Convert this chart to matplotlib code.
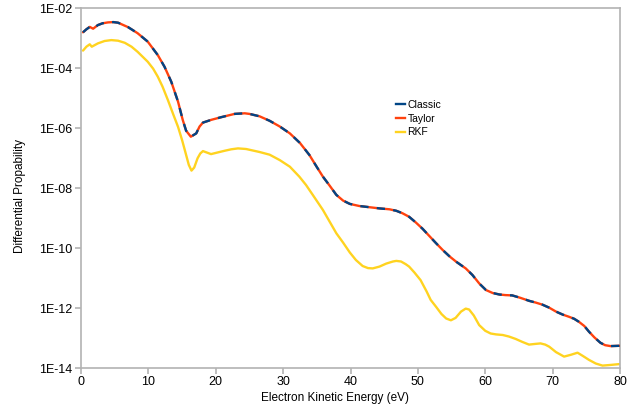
import numpy as np
import matplotlib
matplotlib.use("Agg")
import matplotlib.pyplot as plt
from matplotlib.ticker import FixedLocator, NullLocator

plt.rcParams['font.family'] = ['Liberation Sans', 'DejaVu Sans']

# Classic / Taylor (identical curves): energy (eV) and log10 of probability
classic_e = [0.3, 0.8, 1.3, 1.8, 2.5, 3.2, 4.0, 4.8, 5.5, 7.0, 8.4, 9.9, 11.4, 12.4, 13.4,
             14.4, 15.1, 15.6, 16.3, 17.1, 17.6, 18.1, 19.3, 20.8, 22.8, 24.3, 25.0, 26.5,
             28.0, 29.5, 31.0, 32.5, 33.9, 35.0, 35.9, 36.9, 37.9, 38.9, 39.9, 41.3, 42.8,
             44.3, 45.8, 46.8, 47.7, 48.7, 49.7, 50.7, 51.7, 52.7, 53.7, 54.7, 55.7, 56.4,
             57.1, 58.1, 59.1, 60.1, 61.1, 62.1, 63.0, 64.0, 65.2, 66.5, 67.5, 68.5, 69.5,
             70.5, 71.5, 72.4, 73.2, 73.9, 74.7, 75.4, 76.2, 77.1, 77.8, 78.6, 79.9]
classic_log = [-2.81, -2.71, -2.63, -2.69, -2.57, -2.51, -2.48, -2.47, -2.49, -2.64, -2.84,
               -3.12, -3.57, -3.96, -4.46, -5.12, -5.73, -6.09, -6.29, -6.18, -5.95, -5.82,
               -5.73, -5.64, -5.53, -5.51, -5.53, -5.61, -5.76, -5.95, -6.18, -6.50, -6.90,
               -7.30, -7.62, -7.92, -8.23, -8.42, -8.53, -8.60, -8.64, -8.68, -8.71, -8.76,
               -8.84, -8.96, -9.15, -9.36, -9.60, -9.84, -10.07, -10.28, -10.46, -10.57,
               -10.68, -10.90, -11.18, -11.40, -11.50, -11.55, -11.57, -11.58, -11.66, -11.76,
               -11.82, -11.89, -11.99, -12.12, -12.22, -12.29, -12.36, -12.46, -12.60, -12.79,
               -12.98, -13.16, -13.24, -13.27, -13.26]

# RKF
rkf_e = [0.3, 0.8, 1.3, 1.6, 2.5, 3.5, 4.5, 5.5, 6.5, 7.5, 8.4, 9.4, 9.9, 10.7, 11.4, 12.1,
         12.9, 13.7, 14.4, 15.0, 15.4, 16.0, 16.4, 16.8, 17.3, 17.7, 18.1, 18.7, 19.3, 20.2,
         21.3, 22.3, 23.3, 24.5, 25.5, 26.5, 28.0, 29.5, 31.0, 32.4, 33.4, 34.4, 35.9, 37.9,
         38.9, 39.9, 40.8, 41.8, 42.6, 43.3, 44.3, 45.3, 46.3, 46.8, 47.5, 48.2, 48.7, 49.5,
         50.4, 51.3, 51.9, 52.7, 53.5, 54.2, 54.9, 55.6, 56.4, 57.1, 57.6, 58.3, 59.1, 60.0,
         60.8, 61.6, 62.6, 63.5, 64.5, 65.5, 66.5, 67.3, 68.2, 68.9, 69.5, 70.5, 71.7, 72.7,
         73.7, 74.5, 75.4, 76.4, 77.4, 78.5, 79.9]
rkf_log = [-3.42, -3.29, -3.21, -3.29, -3.18, -3.10, -3.07, -3.09, -3.16, -3.29, -3.46, -3.68,
           -3.79, -4.02, -4.29, -4.62, -5.07, -5.55, -5.96, -6.40, -6.73, -7.23, -7.42, -7.32,
           -7.01, -6.85, -6.77, -6.82, -6.87, -6.82, -6.76, -6.71, -6.68, -6.70, -6.75, -6.80,
           -6.89, -7.07, -7.29, -7.62, -7.90, -8.23, -8.73, -9.51, -9.82, -10.15, -10.40,
           -10.60, -10.67, -10.68, -10.62, -10.52, -10.45, -10.43, -10.45, -10.54, -10.62,
           -10.82, -11.07, -11.45, -11.73, -11.96, -12.20, -12.35, -12.41, -12.33, -12.12,
           -12.02, -12.05, -12.25, -12.57, -12.76, -12.85, -12.88, -12.90, -12.95, -13.03,
           -13.13, -13.22, -13.20, -13.18, -13.22, -13.29, -13.47, -13.62, -13.56, -13.49,
           -13.60, -13.73, -13.85, -13.92, -13.90, -13.87]

ytick_vals = [1e-2, 1e-4, 1e-6, 1e-8, 1e-10, 1e-12, 1e-14]
ytick_labels = ["1E-02", "1E-04", "1E-06", "1E-08", "1E-10", "1E-12", "1E-14"]
xticks = [0, 10, 20, 30, 40, 50, 60, 70, 80]

W, H = 638, 411
fig = plt.figure(figsize=(W / 100, H / 100), dpi=100)
ax = fig.add_axes([81 / W, 1 - 368 / H, (620 - 81) / W, (368 - 8) / H])

ce = np.array(classic_e)
cv = 10 ** np.array(classic_log)
re = np.array(rkf_e)
rv = 10 ** np.array(rkf_log)

kw = dict(lw=1.7, solid_joinstyle='round', solid_capstyle='round')
ax.plot(re, rv, color='#ffd320', zorder=2, **kw)
ax.plot(ce, cv, color='#ff420e', zorder=3, **kw)
ax.plot(ce, cv, color='#004586', lw=1.7, dashes=(3.5, 3.5), dash_joinstyle='round', zorder=4)

ax.set_yscale('log')
ax.set_xlim(0, 80)
ax.set_ylim(1e-14, 1e-2)
ax.yaxis.set_major_locator(FixedLocator(ytick_vals))
ax.yaxis.set_minor_locator(NullLocator())
ax.set_yticks(ytick_vals)
ax.set_yticklabels(ytick_labels)
ax.set_xticks(xticks)
ax.set_xticklabels([str(v) for v in xticks])

for s in ax.spines.values():
    s.set_color('#b3b3b3')
    s.set_linewidth(1.2)
ax.tick_params(axis='both', direction='out', length=4, width=1.2, color='#b3b3b3',
               labelsize=9, pad=2)

fig.text(335 / W, 1 - 398 / H, 'Electron Kinetic Energy (eV)', fontsize=8.5,
         ha='center', va='center')
fig.text(20 / W, 1 - 196 / H, 'Differential Propability', fontsize=8.5,
         ha='center', va='center', rotation=90)

ax.legend([plt.Line2D([], [], color='#004586', lw=1.7),
           plt.Line2D([], [], color='#ff420e', lw=1.7),
           plt.Line2D([], [], color='#ffd320', lw=1.7)],
          ['Classic', 'Taylor', 'RKF'],
          loc='upper left', bbox_to_anchor=((396 - 81) / 539, 1 - (100 - 8) / 360),
          frameon=False, fontsize=7.5, handlelength=0.9, handletextpad=0.2,
          labelspacing=0.35, borderpad=0, borderaxespad=0)

fig.savefig('out.png', dpi=100)
